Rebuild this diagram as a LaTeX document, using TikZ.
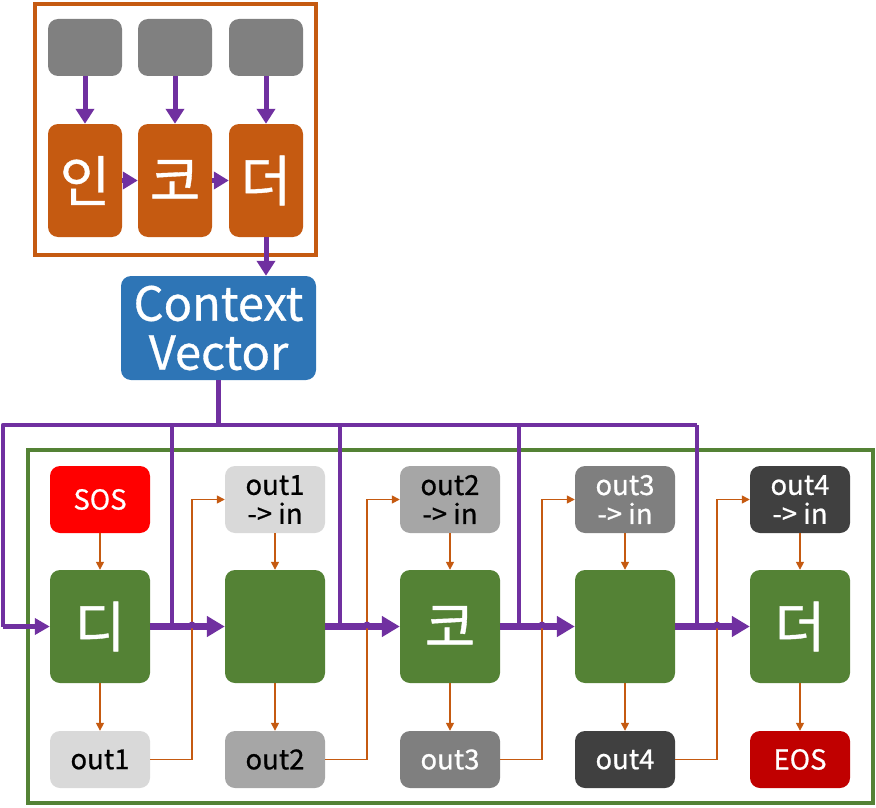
\documentclass[tikz,border=0pt]{standalone}
\usepackage{fontspec}
\setmainfont{Noto Sans CJK KR}[FakeBold=0.7]
\usetikzlibrary{arrows.meta,calc}
\definecolor{cOr}{HTML}{C55A11}
\definecolor{cPu}{HTML}{7030A0}
\definecolor{cBl}{HTML}{2E75B6}
\definecolor{cGr}{HTML}{548235}
\definecolor{cG1}{HTML}{D9D9D9}
\definecolor{cG2}{HTML}{A6A6A6}
\definecolor{cG3}{HTML}{7F7F7F}
\definecolor{cG4}{HTML}{404040}
\definecolor{cIn}{HTML}{808080}
\definecolor{cEos}{HTML}{C00000}
\begin{document}
\begin{tikzpicture}[x=1pt,y=-1pt,
  rbox/.style={rounded corners=10pt, inner sep=0pt, align=center, draw=none},
  inbox/.style={rbox, fill=cIn, minimum width=74pt, minimum height=57pt},
  encbox/.style={rbox, fill=cOr, minimum width=74pt, minimum height=113pt, text=white, font=\fontsize{55}{60}\selectfont},
  decbox/.style={rbox, fill=cGr, minimum width=100pt, minimum height=113pt, text=white, font=\fontsize{55}{60}\selectfont},
  topbox/.style={rbox, minimum width=100pt, minimum height=67pt, font=\fontsize{27.5}{29}\selectfont},
  botbox/.style={rbox, minimum width=100pt, minimum height=57pt, font=\fontsize{27.5}{29}\selectfont},
  penc/.style={draw=cPu, line width=5pt, -{Triangle[length=15pt,width=18pt]}},
  pctx/.style={draw=cPu, line width=4.5pt, line join=round},
  pdec/.style={draw=cPu, line width=7pt, -{Triangle[length=18pt,width=20pt]}},
  oarr/.style={draw=cOr, line width=1.5pt, -{Triangle[length=8pt,width=8pt]}},
  ]
\useasboundingbox (0,0) rectangle (876,808);

% encoder frame
\node[draw=cOr, line width=4pt, minimum width=281pt, minimum height=250pt, inner sep=0pt] (encf) at (175,129.5) {};
\node[inbox] (i1) at (85,47.5) {};
\node[inbox] (i2) at (175,47.5) {};
\node[inbox] (i3) at (266,47.5) {};
\node[encbox] (e1) at (85,180.5) {인};
\node[encbox] (e2) at (175,180.5) {코};
\node[encbox] (e3) at (266,180.5) {더};
\draw[penc] (i1.south) -- (e1.north);
\draw[penc] (i2.south) -- (e2.north);
\draw[penc] (i3.south) -- (e3.north);
\draw[penc, -{Triangle[length=15pt,width=17pt]}] (e1.east) -- (e2.west);
\draw[penc, -{Triangle[length=15pt,width=17pt]}] (e2.east) -- (e3.west);

% context vector
\node[rbox, fill=cBl, minimum width=195pt, minimum height=104pt, text=white, font=\fontsize{47}{49}\selectfont] (cv) at (218.5,328) {Context\\Vector};
\draw[penc] (e3.south) -- (e3.south |- cv.north);

% decoder frame
\node[draw=cGr, line width=4pt, minimum width=845.5pt, minimum height=353pt, inner sep=0pt] (decf) at (450.25,626.5) {};

% decoder cells
\node[decbox] (d1) at (100,626.5) {디};
\node[decbox] (d2) at (275,626.5) {};
\node[decbox] (d3) at (450,626.5) {코};
\node[decbox] (d4) at (625,626.5) {};
\node[decbox] (d5) at (800,626.5) {더};

\node[topbox, fill=red, text=white] (t1) at (100,499.5) {SOS};
\node[topbox, fill=cG1, text=black] (t2) at (275,499.5) {out1\\-> in};
\node[topbox, fill=cG2, text=black] (t3) at (450,499.5) {out2\\-> in};
\node[topbox, fill=cG3, text=white] (t4) at (625,499.5) {out3\\-> in};
\node[topbox, fill=cG4, text=white] (t5) at (800,499.5) {out4\\-> in};

\node[botbox, fill=cG1, text=black] (b1) at (100,759.5) {out1};
\node[botbox, fill=cG2, text=black] (b2) at (275,759.5) {out2};
\node[botbox, fill=cG3, text=white] (b3) at (450,759.5) {out3};
\node[botbox, fill=cG4, text=white] (b4) at (625,759.5) {out4};
\node[botbox, fill=cEos, text=white] (b5) at (800,759.5) {EOS};

% context distribution lines
\coordinate (cl) at (3,425);
\coordinate (cr) at (697,425);
\coordinate (v2) at (172,425);
\coordinate (v3) at (340,425);
\coordinate (v4) at (519,425);
\draw[pctx] (cv.south) -- (cv.south |- cl);
\draw[pctx] (cr) -- (cl) -- (cl |- d1.west);
\draw[pctx, -{Triangle[length=15pt,width=16pt]}] (cl |- d1.west) -- (d1.west);
\draw[pctx] (v2) -- (v2 |- d1.east);
\draw[pctx] (v3) -- (v3 |- d1.east);
\draw[pctx] (v4) -- (v4 |- d1.east);
\draw[pctx] (cr) -- (cr |- d1.east);

% decoder chain
\draw[pdec] (d1.east) -- (d2.west);
\draw[pdec] (d2.east) -- (d3.west);
\draw[pdec] (d3.east) -- (d4.west);
\draw[pdec] (d4.east) -- (d5.west);

% orange connectors
\foreach \i in {1,...,5}{
  \draw[oarr] (t\i.south) -- (d\i.north);
  \draw[oarr] (d\i.south) -- (b\i.north);
}
\foreach \i/\j/\x in {1/2/192,2/3/367,3/4/542,4/5/717}{
  \draw[oarr] (b\i.east) -| (\x, 0 |- t\j.west) -- (t\j.west);
  \fill[cPu] (\x,625) circle (3.5pt);
}
\end{tikzpicture}
\end{document}
